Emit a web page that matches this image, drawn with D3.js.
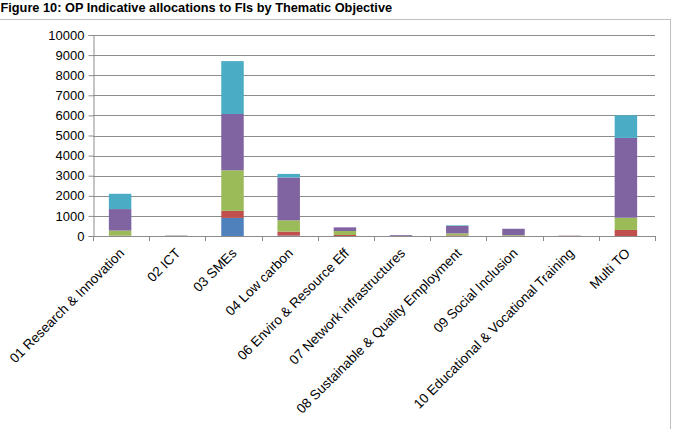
<!DOCTYPE html>
<html>
<head>
<meta charset="utf-8">
<script src="https://cdn.jsdelivr.net/npm/d3@7"></script>
<style>
  body { margin: 0; background: #fff; }
  svg { display: block; font-family: "Liberation Sans", Arial, sans-serif; }
</style>
</head>
<body>
<div id="chart"></div>
<script>
// categories (thematic objectives)
const categories = [
    "01 Research & Innovation", "02 ICT", "03 SMEs", "04 Low carbon",
    "06 Enviro & Resource Eff", "07 Network infrastructures",
    "08 Sustainable & Quality Employment", "09 Social Inclusion",
    "10 Educational & Vocational Training", "Multi TO"
];
// stacked series, bottom to top
const seriesNames = ["s1", "s2", "s3", "s4", "s5"];
const s1 = [10, 5, 900, 20, 0, 0, 0, 0, 0, 0];
const s2 = [10, 5, 350, 200, 50, 0, 30, 10, 5, 300];
const s3 = [250, 5, 2020, 560, 200, 10, 100, 30, 5, 610];
const s4 = [1070, 10, 2800, 2130, 180, 40, 370, 320, 10, 3970];
const s5 = [760, 0, 2630, 180, 0, 0, 30, 0, 0, 1125];
const colors = ["#4f81bd", "#c0504d", "#9bbb59", "#8064a2", "#4bacc6"];
const yTicks = [0, 1000, 2000, 3000, 4000, 5000, 6000, 7000, 8000, 9000, 10000];
const title = "Figure 10: OP Indicative allocations to FIs by Thematic Objective";

const width = 675, height = 429;
const plot = { left: 93, right: 655, top: 35, bottom: 236 };

const svg = d3.select("#chart").append("svg")
    .attr("width", width).attr("height", height);

// frame lines
svg.append("line").attr("x1", 0).attr("x2", 670).attr("y1", 19.5).attr("y2", 19.5)
    .attr("stroke", "#bfbfbf");
svg.append("line").attr("x1", 670.5).attr("x2", 670.5).attr("y1", 19).attr("y2", height)
    .attr("stroke", "#bfbfbf");

svg.append("text").attr("x", 0.5).attr("y", 11.5)
    .attr("font-size", 12.75).attr("font-weight", "bold").attr("fill", "#000")
    .text(title);

const x = d3.scaleBand().domain(categories).range([plot.left, plot.right]).paddingInner(0.6).paddingOuter(0.3);
const xb = d3.scaleBand().domain(categories).range([plot.left, plot.right]);
const y = d3.scaleLinear().domain([0, 10000]).range([plot.bottom, plot.top]);

// gridlines
svg.append("g").selectAll("line").data(yTicks.slice(1)).join("line")
    .attr("x1", plot.left).attr("x2", plot.right)
    .attr("y1", d => Math.round(y(d)) + 0.5).attr("y2", d => Math.round(y(d)) + 0.5)
    .attr("stroke", "#8c8c8c");

// stacked bars
const table = categories.map((c, i) => ({ cat: c, s1: s1[i], s2: s2[i], s3: s3[i], s4: s4[i], s5: s5[i] }));
const stack = d3.stack().keys(seriesNames)(table);
svg.append("g").selectAll("g").data(stack).join("g")
    .attr("fill", (d, i) => colors[i])
    .selectAll("rect").data(d => d).join("rect")
    .attr("x", d => x(d.data.cat) - 1)
    .attr("width", x.bandwidth())
    .attr("y", d => y(d[1]))
    .attr("height", d => y(d[0]) - y(d[1]));

// y axis
const yAxis = svg.append("g").attr("transform", `translate(${plot.left + 0.5},0)`)
    .call(d3.axisLeft(y).tickValues(yTicks).tickSize(5).tickPadding(4).tickFormat(d3.format("d")));
yAxis.select(".domain").attr("stroke", "#8c8c8c");
yAxis.selectAll(".tick line").attr("stroke", "#8c8c8c");
yAxis.selectAll(".tick text").attr("font-size", 13).attr("fill", "#000")
    .attr("font-family", "Liberation Sans, Arial, sans-serif");

// x axis line and ticks at category boundaries
const bounds = categories.map(c => xb(c)).concat([plot.right]);
svg.append("line").attr("x1", plot.left).attr("x2", plot.right)
    .attr("y1", plot.bottom + 0.5).attr("y2", plot.bottom + 0.5).attr("stroke", "#8c8c8c");
svg.append("g").selectAll("line").data(bounds).join("line")
    .attr("x1", d => Math.round(d) + 0.5).attr("x2", d => Math.round(d) + 0.5)
    .attr("y1", plot.bottom).attr("y2", plot.bottom + 5).attr("stroke", "#8c8c8c");

// rotated category labels
svg.append("g").selectAll("text").data(categories).join("text")
    .attr("transform", d => `translate(${xb(d) + xb.bandwidth() / 2 + 4},${plot.bottom + 18}) rotate(-45)`)
    .attr("text-anchor", "end")
    .attr("font-size", 13.5).attr("fill", "#000")
    .text(d => d);
</script>
</body>
</html>
